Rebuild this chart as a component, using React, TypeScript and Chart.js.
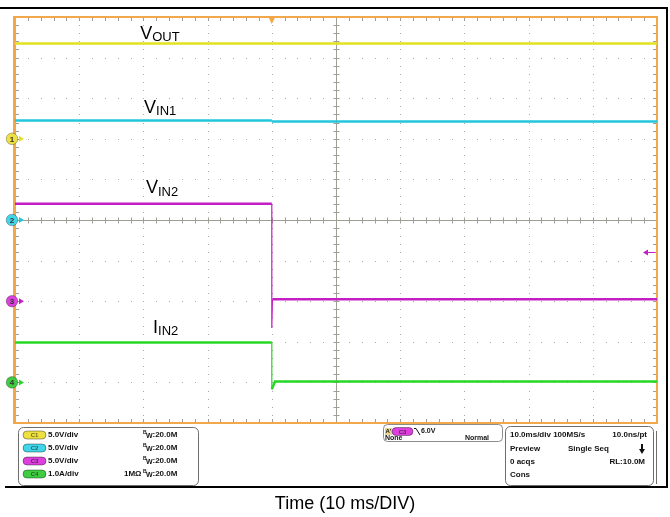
import React, { useEffect, useRef } from 'react';
import { Chart, registerables } from 'chart.js';

Chart.register(...registerables);

// Horizontal: time relative to trigger, 10 ms/div, 10 divisions
const timeMin = -40;
const timeMax = 60;
const timeDiv = 10;
// Vertical: ±5 divisions
const divMin = -5;
const divMax = 5;

// Channel settings
const channelNames = ['C1', 'C2', 'C3', 'C4'];
const channelScales = [5, 5, 5, 1];
const channelUnits = ['V/div', 'V/div', 'V/div', 'A/div'];
const channelOffsets = [2, 0, -2, -4];
const channelColors = ['#e2e21e', '#22c6dc', '#c41ec4', '#26d826'];
const markerColors = ['#eee040', '#40d6e8', '#dc40dc', '#40cc40'];

// Traces (time ms, value in V or A)
const vOutTime = [-40, 60];
const vOutValues = [11.75, 11.75];
const vIn1Time = [-40, 0, 0, 60];
const vIn1Values = [12.25, 12.25, 12.12, 12.12];
const vIn2Time = [-40, 0, 0, 0.1, 60];
const vIn2Values = [12.0, 12.0, -3.3, 0.25, 0.25];
const iIn2Time = [-40, 0, 0, 0.5, 60];
const iIn2Values = [0.98, 0.98, -0.17, 0.02, 0.02];

const traceTimes = [vOutTime, vIn1Time, vIn2Time, iIn2Time];
const traceValues = [vOutValues, vIn1Values, vIn2Values, iIn2Values];
const traceNames = ['VOUT', 'VIN1', 'VIN2', 'IIN2'];

// Trace labels: main letter, subscript, anchor (ms, div)
const labelMain = ['V', 'V', 'V', 'I'];
const labelSub = ['OUT', 'IN1', 'IN2', 'IN2'];
const labelTime = [-20.5, -19.9, -19.6, -18.5];
const labelDiv = [4.47, 2.64, 0.665, -2.78];

const triggerChannel = 2;
const triggerLevel = 6.0;

const FONT = '"Liberation Sans", Arial, Helvetica, sans-serif';

function roundRect(ctx: CanvasRenderingContext2D, x: number, y: number, w: number, h: number, r: number) {
  ctx.beginPath();
  ctx.moveTo(x + r, y);
  ctx.lineTo(x + w - r, y);
  ctx.arcTo(x + w, y, x + w, y + r, r);
  ctx.lineTo(x + w, y + h - r);
  ctx.arcTo(x + w, y + h, x + w - r, y + h, r);
  ctx.lineTo(x + r, y + h);
  ctx.arcTo(x, y + h, x, y + h - r, r);
  ctx.lineTo(x, y + r);
  ctx.arcTo(x, y, x + r, y, r);
  ctx.closePath();
}

function pill(ctx: CanvasRenderingContext2D, x: number, cy: number, w: number, fill: string, label: string) {
  roundRect(ctx, x, cy - 4, w, 8, 4);
  ctx.fillStyle = fill;
  ctx.fill();
  ctx.strokeStyle = 'rgba(0,0,0,0.45)';
  ctx.lineWidth = 0.8;
  ctx.stroke();
  ctx.fillStyle = 'rgba(0,0,0,0.55)';
  ctx.font = `bold 6px ${FONT}`;
  ctx.textAlign = 'center';
  ctx.textBaseline = 'middle';
  ctx.fillText(label, x + w / 2, cy + 0.5);
  ctx.textAlign = 'left';
}

const scopePlugin = {
  id: 'scope',
  beforeDraw(chart: any) {
    const { ctx, chartArea: a } = chart;
    const x = chart.scales.x;
    const y = chart.scales.y;
    ctx.save();
    ctx.fillStyle = '#ffffff';
    ctx.fillRect(0, 0, chart.width, chart.height);

    // outer frame
    ctx.fillStyle = '#000';
    ctx.fillRect(0, 7, 668, 2);
    ctx.fillRect(666, 7, 2, 481);
    ctx.fillRect(5, 486, 663, 2);

    // dotted graticule
    ctx.fillStyle = '#a8a8a8';
    const minorT = timeDiv / 5;
    for (let d = divMin + 1; d < divMax; d++) {
      if (d === 0) continue;
      const py = Math.round(y.getPixelForValue(d));
      for (let t = timeMin; t <= timeMax + 0.001; t += minorT) {
        const px = Math.round(x.getPixelForValue(t));
        ctx.fillRect(px, py, 1, 1);
      }
    }
    const centerT = (timeMin + timeMax) / 2;
    for (let t = timeMin + timeDiv; t < timeMax; t += timeDiv) {
      if (Math.abs(t - centerT) < 0.01) continue;
      const px = Math.round(x.getPixelForValue(t));
      for (let d = divMin; d <= divMax + 0.001; d += 0.2) {
        const py = Math.round(y.getPixelForValue(d));
        ctx.fillRect(px, py, 1, 1);
      }
    }

    // center crosshair with ticks
    ctx.strokeStyle = '#9e9e94';
    ctx.lineWidth = 1;
    const cy = Math.round(y.getPixelForValue(0)) + 0.5;
    const cx = Math.round(x.getPixelForValue(centerT)) + 0.5;
    ctx.beginPath();
    ctx.moveTo(a.left, cy);
    ctx.lineTo(a.right, cy);
    ctx.moveTo(cx, a.top);
    ctx.lineTo(cx, a.bottom);
    for (let t = timeMin; t <= timeMax + 0.001; t += minorT) {
      const px = Math.round(x.getPixelForValue(t)) + 0.5;
      ctx.moveTo(px, cy - 3);
      ctx.lineTo(px, cy + 3);
      ctx.moveTo(px, a.top);
      ctx.lineTo(px, a.top + 4);
      ctx.moveTo(px, a.bottom);
      ctx.lineTo(px, a.bottom - 4);
    }
    for (let d = divMin; d <= divMax + 0.001; d += 0.2) {
      const py = Math.round(y.getPixelForValue(d)) + 0.5;
      ctx.moveTo(cx - 3, py);
      ctx.lineTo(cx + 3, py);
      ctx.moveTo(a.left, py);
      ctx.lineTo(a.left + 4, py);
      ctx.moveTo(a.right, py);
      ctx.lineTo(a.right - 4, py);
    }
    ctx.stroke();

    // orange border
    ctx.strokeStyle = '#f2a84a';
    ctx.lineWidth = 2;
    ctx.strokeRect(a.left, a.top, a.right - a.left, a.bottom - a.top);
    ctx.fillStyle = '#f2a84a';
    ctx.fillRect(a.left - 2, a.top - 1, 3, a.bottom - a.top + 2);
    ctx.restore();
  },
  afterDatasetsDraw(chart: any) {
    const { ctx, chartArea: a } = chart;
    const x = chart.scales.x;
    const y = chart.scales.y;
    ctx.save();

    // trigger position marker (top)
    const tx = x.getPixelForValue(0);
    ctx.fillStyle = '#f2a84a';
    ctx.beginPath();
    ctx.moveTo(tx - 3.5, a.top);
    ctx.lineTo(tx + 3.5, a.top);
    ctx.lineTo(tx, a.top + 7);
    ctx.closePath();
    ctx.fill();

    // trigger level marker (right)
    const ly = y.getPixelForValue(triggerLevel / channelScales[triggerChannel] + channelOffsets[triggerChannel]);
    ctx.fillStyle = channelColors[triggerChannel];
    ctx.strokeStyle = channelColors[triggerChannel];
    ctx.beginPath();
    ctx.moveTo(a.right - 14, ly);
    ctx.lineTo(a.right - 9, ly - 3);
    ctx.lineTo(a.right - 9, ly + 3);
    ctx.closePath();
    ctx.fill();
    ctx.lineWidth = 1;
    ctx.beginPath();
    ctx.moveTo(a.right - 9, ly);
    ctx.lineTo(a.right - 2, ly);
    ctx.stroke();

    // channel ground markers
    channelOffsets.forEach((off, i) => {
      const py = y.getPixelForValue(off);
      ctx.fillStyle = channelColors[i];
      ctx.beginPath();
      ctx.moveTo(24, py);
      ctx.lineTo(19, py - 3);
      ctx.lineTo(19, py + 3);
      ctx.closePath();
      ctx.fill();
      ctx.beginPath();
      ctx.arc(12, py, 5.8, 0, Math.PI * 2);
      ctx.fillStyle = markerColors[i];
      ctx.fill();
      ctx.strokeStyle = 'rgba(0,0,0,0.35)';
      ctx.lineWidth = 0.8;
      ctx.stroke();
      ctx.fillStyle = '#333';
      ctx.font = `bold 8px ${FONT}`;
      ctx.textAlign = 'center';
      ctx.textBaseline = 'middle';
      ctx.fillText(String(i + 1), 12, py + 0.5);
    });

    // trace labels
    ctx.textAlign = 'left';
    ctx.textBaseline = 'alphabetic';
    ctx.fillStyle = '#000';
    labelMain.forEach((m, i) => {
      const px = x.getPixelForValue(labelTime[i]);
      const py = y.getPixelForValue(labelDiv[i]);
      ctx.font = `18px ${FONT}`;
      ctx.fillText(m, px, py);
      const w = ctx.measureText(m).width;
      ctx.font = `13px ${FONT}`;
      ctx.fillText(labelSub[i], px + w, py + 2.5);
    });

    // ---- info panel ----
    ctx.lineWidth = 1;
    ctx.strokeStyle = '#6e6e6e';
    roundRect(ctx, 18.5, 427.5, 180, 58, 5);
    ctx.stroke();
    const rows = [435, 448, 461, 474];
    rows.forEach((ry, i) => {
      pill(ctx, 23, ry, 23, markerColors[i], channelNames[i]);
      ctx.fillStyle = '#111';
      ctx.font = `bold 8px ${FONT}`;
      ctx.textAlign = 'left';
      ctx.textBaseline = 'middle';
      ctx.fillText(channelScales[i].toFixed(1) + channelUnits[i], 48, ry);
      ctx.font = `bold 5px ${FONT}`;
      ctx.fillText('B', 143, ry - 2);
      ctx.font = `bold 7px ${FONT}`;
      ctx.fillText('W', 146, ry + 1.5);
      ctx.font = `bold 8px ${FONT}`;
      ctx.fillText(':20.0M', 152.5, ry);
      if (i === 3) ctx.fillText('1M\u03A9', 124, ry);
    });

    // trigger box
    ctx.strokeStyle = '#6e6e6e';
    roundRect(ctx, 383.5, 424.5, 119, 17, 4);
    ctx.stroke();
    ctx.fillStyle = '#e6d690';
    ctx.fillRect(385, 428, 7, 7);
    ctx.fillStyle = '#111';
    ctx.font = `bold 6px ${FONT}`;
    ctx.textBaseline = 'middle';
    ctx.fillText("A'", 385.5, 431.5);
    pill(ctx, 392, 431.5, 21, markerColors[2], 'C3');
    ctx.strokeStyle = '#111';
    ctx.lineWidth = 1;
    ctx.beginPath();
    ctx.moveTo(414, 428.5);
    ctx.lineTo(416, 428.5);
    ctx.lineTo(420, 435);
    ctx.stroke();
    ctx.fillStyle = '#111';
    ctx.font = `bold 7px ${FONT}`;
    ctx.fillText(triggerLevel.toFixed(1) + 'V', 421, 431.5);
    ctx.fillText('None', 385, 438.5);
    ctx.textAlign = 'right';
    ctx.fillText('Normal', 489, 438.5);
    ctx.textAlign = 'left';

    // acquisition box
    ctx.strokeStyle = '#6e6e6e';
    roundRect(ctx, 505.5, 426.5, 148, 59, 5);
    ctx.stroke();
    ctx.beginPath();
    ctx.moveTo(656.5, 431);
    ctx.lineTo(656.5, 484);
    ctx.stroke();
    ctx.fillStyle = '#111';
    ctx.font = `bold 8px ${FONT}`;
    ctx.textBaseline = 'middle';
    ctx.fillText('10.0ms/div 100MS/s', 510, 435);
    ctx.fillText('Preview', 510, 449);
    ctx.fillText('Single Seq', 568, 449);
    ctx.fillText('0 acqs', 510, 462);
    ctx.fillText('Cons', 510, 475);
    ctx.textAlign = 'right';
    ctx.fillText('10.0ns/pt', 647, 435);
    ctx.fillText('RL:10.0M', 645, 462);
    ctx.textAlign = 'left';
    // down arrow
    ctx.fillRect(641, 444, 2, 6);
    ctx.beginPath();
    ctx.moveTo(639, 449);
    ctx.lineTo(645, 449);
    ctx.lineTo(642, 454);
    ctx.closePath();
    ctx.fill();

    // caption
    ctx.fillStyle = '#000';
    ctx.font = `18px ${FONT}`;
    ctx.textAlign = 'center';
    ctx.textBaseline = 'alphabetic';
    ctx.fillText('Time (10 ms/DIV)', 345, 509);
    ctx.restore();
  },
};

export default function App() {
  const canvasRef = useRef<HTMLCanvasElement | null>(null);

  useEffect(() => {
    const canvas = canvasRef.current;
    if (!canvas) return;
    const datasets = traceTimes.map((times, i) => ({
      label: traceNames[i],
      data: times.map((t, k) => ({ x: t, y: traceValues[i][k] / channelScales[i] + channelOffsets[i] })),
      borderColor: channelColors[i],
      borderWidth: 2.5,
      pointRadius: 0,
      tension: 0,
      fill: false,
      segment: {
        borderWidth: (c: any) => (Math.abs(c.p0.parsed.x - c.p1.parsed.x) < 0.2 ? 1.2 : 2.5),
      },
    }));
    const chart = new Chart(canvas, {
      type: 'line',
      data: { datasets },
      options: {
        animation: false,
        responsive: false,
        devicePixelRatio: 1,
        layout: { padding: { left: 15, top: 17, right: 13, bottom: 94 } },
        plugins: { legend: { display: false }, tooltip: { enabled: false } },
        scales: {
          x: { type: 'linear', min: timeMin, max: timeMax, display: false },
          y: { type: 'linear', min: divMin, max: divMax, display: false },
        },
      },
      plugins: [scopePlugin],
    });
    return () => chart.destroy();
  }, []);

  return (
    <div style={{ position: 'fixed', left: 0, top: 0, width: 670, height: 517, background: '#fff' }}>
      <canvas ref={canvasRef} width={670} height={517} style={{ display: 'block' }} />
    </div>
  );
}
